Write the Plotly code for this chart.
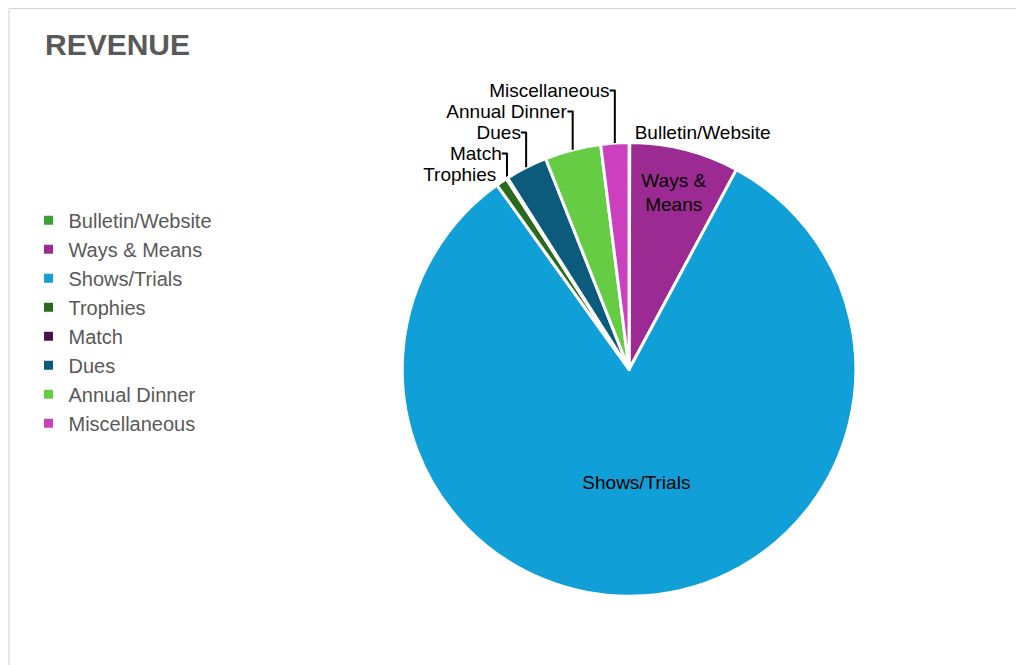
import plotly.graph_objects as go

labels = ["Bulletin/Website", "Ways & Means", "Shows/Trials", "Trophies", "Match", "Dues", "Annual Dinner", "Miscellaneous"]
values = [0.05, 7.8, 82.3, 0.8, 0.1, 3.0, 4.0, 2.0]
colors = ["#3aa032", "#9c2a93", "#119fd8", "#2a6a1e", "#4a1446", "#0d5b7c", "#66cc44", "#cc3fbf"]
positions = ["outside", "inside", "inside", "outside", "outside", "outside", "outside", "outside"]
slice_text = ["Bulletin/Website", "Ways &<br>Means", "Shows/Trials", "Trophies", "Match", "Dues", "Annual Dinner", "Miscellaneous"]

fig = go.Figure(go.Pie(
    labels=labels, values=values, sort=False, direction="clockwise", rotation=0,
    marker=dict(colors=colors, line=dict(color="white", width=3)),
    text=slice_text, texttemplate="%{text}", textposition=positions,
    insidetextorientation="horizontal",
    insidetextfont=dict(family="Liberation Sans, Arial", size=19, color="black"),
    outsidetextfont=dict(family="Liberation Sans, Arial", size=19, color="black"),
    domain=dict(x=[0.385, 0.828], y=[0.115, 0.798]),
    automargin=False,
))
fig.update_layout(
    width=1024, height=665, paper_bgcolor="white",
    margin=dict(l=0, r=0, t=0, b=0),
    font=dict(family="Liberation Sans, Arial", color="#595959"),
    uniformtext=dict(minsize=19, mode="show"),
    legend=dict(x=0.02, y=0.71, xanchor="left", yanchor="top",
                font=dict(size=20, color="#595959"), tracegroupgap=0,
                itemwidth=30, bgcolor="rgba(0,0,0,0)"),
    annotations=[dict(text="<b>REVENUE</b>", x=0.034, y=0.945, xref="paper", yref="paper",
                      xanchor="left", yanchor="middle", showarrow=False,
                      font=dict(size=30, color="#595959"))],
    shapes=[dict(type="rect", xref="paper", yref="paper", x0=0.001, y0=0.001, x1=0.999, y1=0.999,
                 line=dict(color="#d0d0d0", width=1))],
)
fig.write_html("out.html")
